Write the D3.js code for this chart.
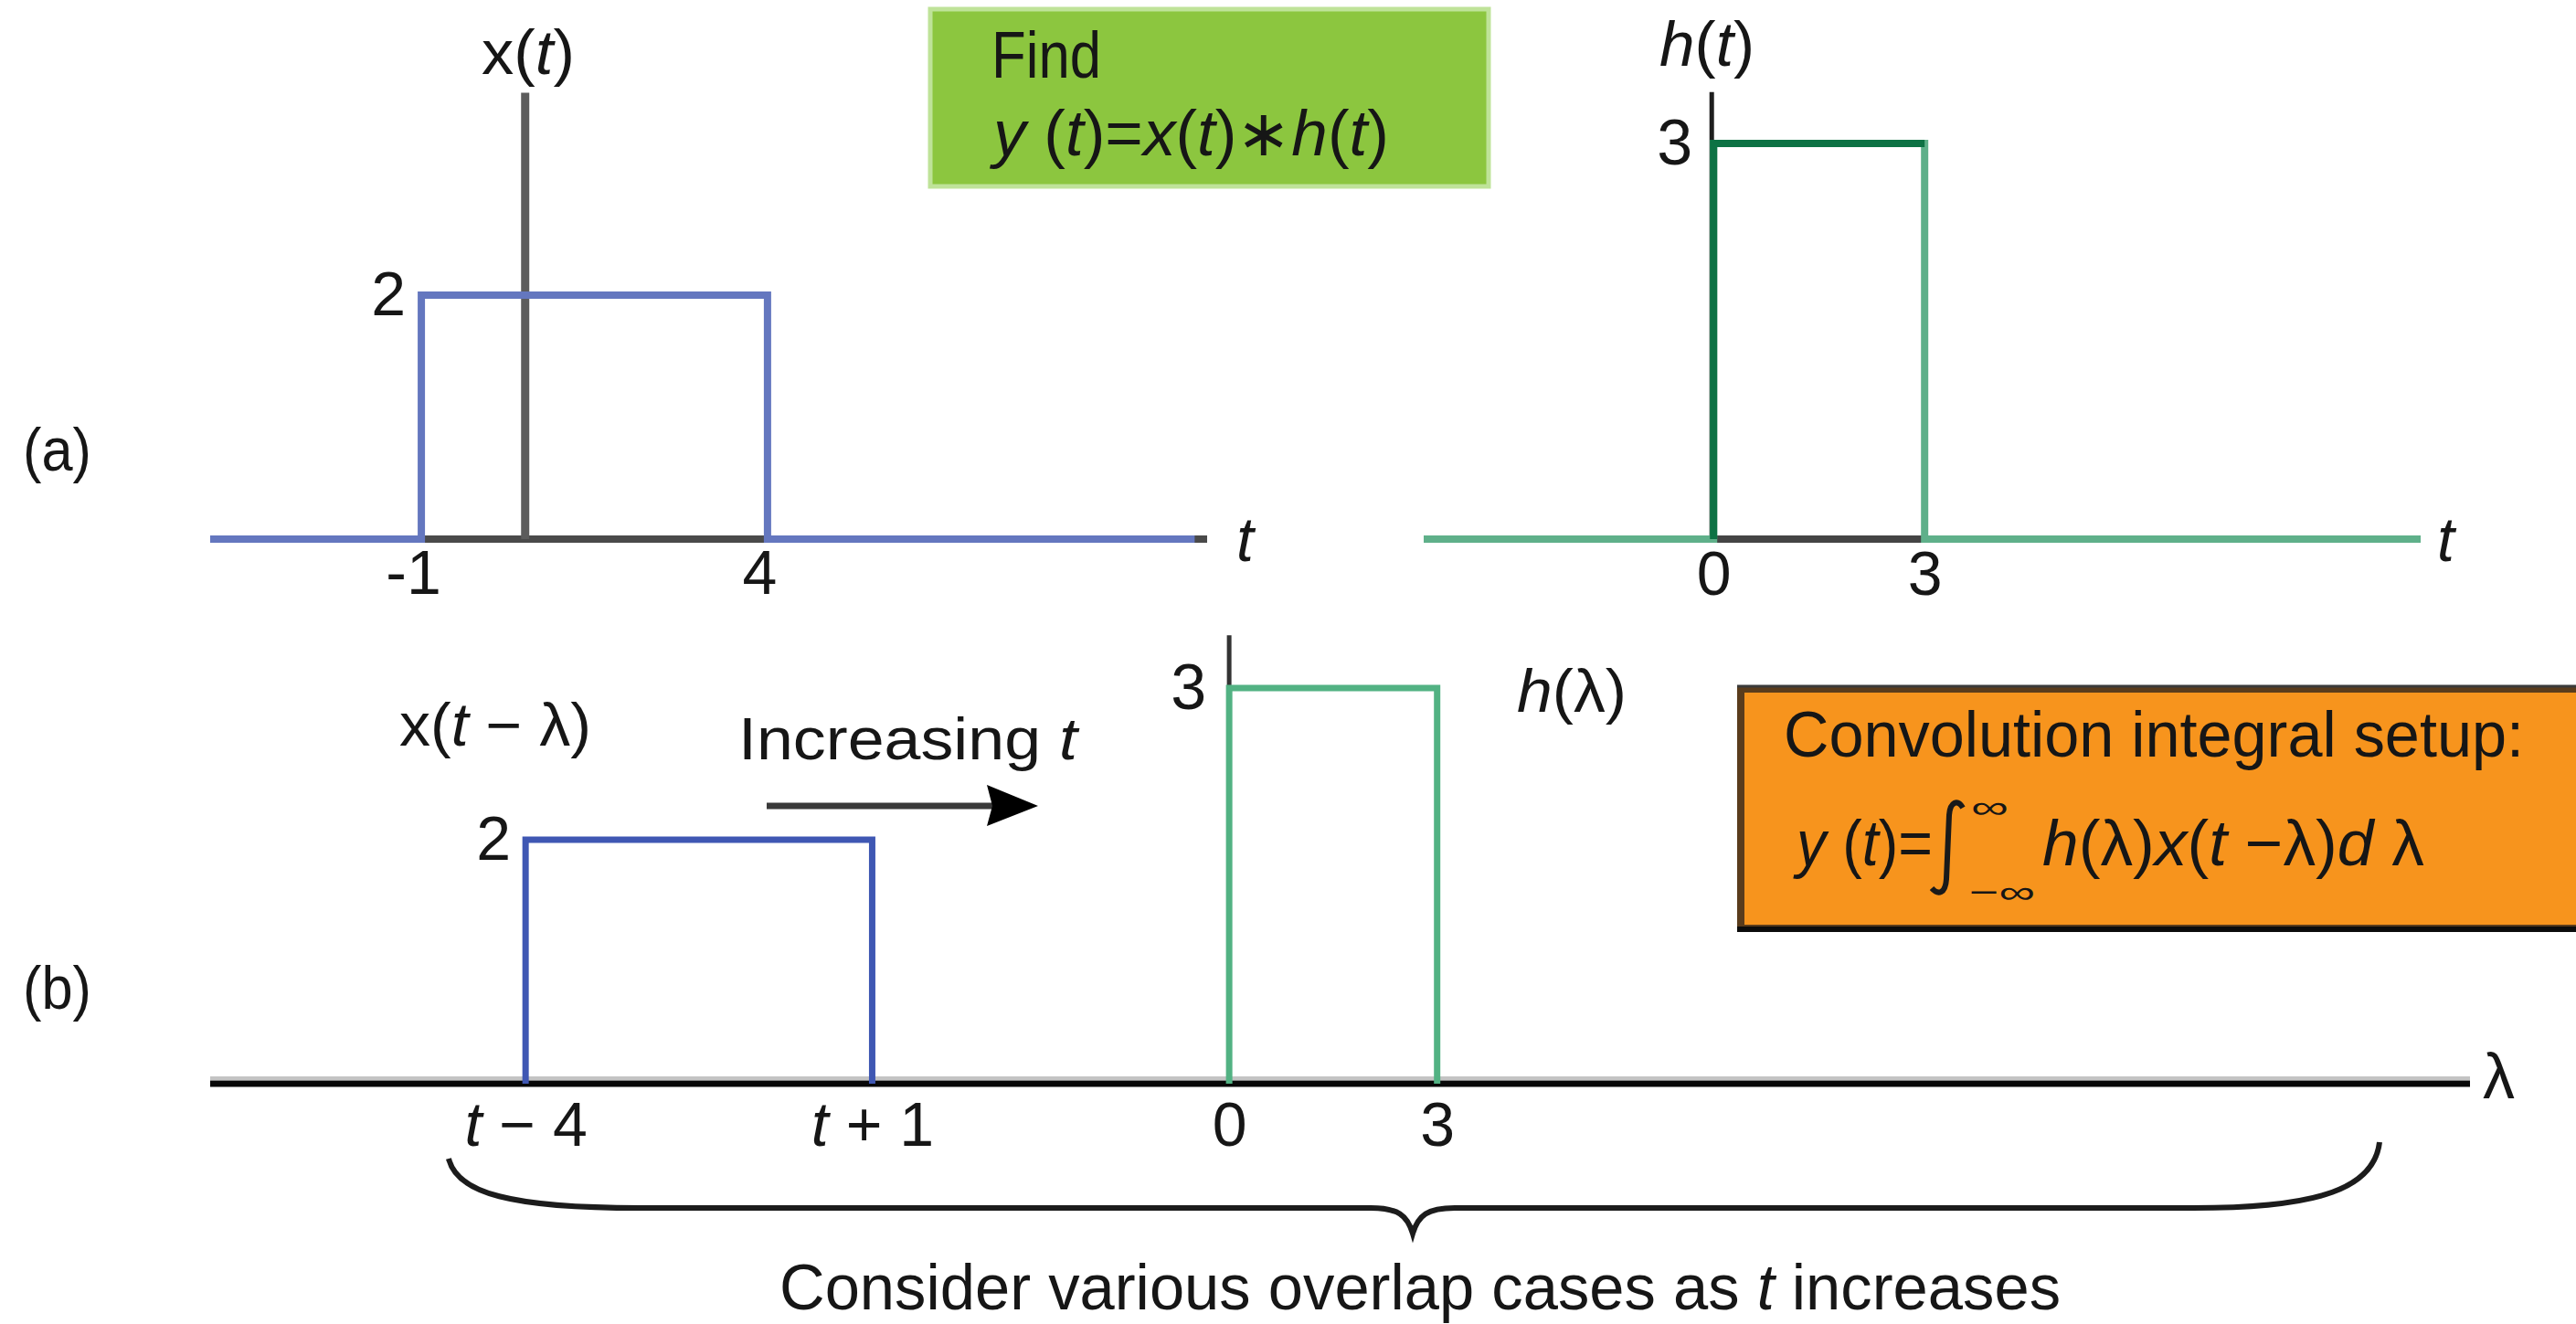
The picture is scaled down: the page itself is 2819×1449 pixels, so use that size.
<!DOCTYPE html>
<html>
<head>
<meta charset="utf-8">
<title>Convolution integral setup</title>
<script src="https://d3js.org/d3.v7.min.js"></script>
<style>
  body { margin: 0; background: #fff; }
  svg text {
    font-family: "Liberation Sans Narrow", "Liberation Sans", Arial, sans-serif;
    fill: #161616;
    white-space: pre;
  }
  .it { font-style: italic; }
</style>
</head>
<body>
<script>
// values
var xEdges = [-1, 4];        // x(t) is nonzero between these t
var xAmp = 2;
var hEdges = [0, 3];         // h(t) is nonzero between these t
var hAmp = 3;
var tShown = -6.15;          // the t used to draw x(t - lambda) in (b)
var xTickLabels = ["-1", "4"];
var hTickLabels = ["0", "3"];
var lamTickLabels = ["_t_ \u2212 4", "_t_ + 1", "0", "3"];

var W = 2819, H = 1449;

var svg = d3.select("body").append("svg")
  .attr("width", W)
  .attr("height", H);

// scales, one set per drawing
var xA  = d3.scaleLinear().domain([-4.05, 10.35]).range([230, 1321]);
var yXa = d3.scaleLinear().domain([0, 2]).range([590, 323]);
var xH  = d3.scaleLinear().domain([-4.12, 10.05]).range([1558, 2649]);
var yHa = d3.scaleLinear().domain([0, 3]).range([590, 157]);
var xL  = d3.scaleLinear().domain([-14.7, 17.9]).range([230, 2703]);
var yXb = d3.scaleLinear().domain([0, 2]).range([1186, 919]);
var yHb = d3.scaleLinear().domain([0, 3]).range([1186, 753]);

function lineOn(xs, ys) {
  return d3.line().x(function(d){ return xs(d[0]); }).y(function(d){ return ys(d[1]); });
}

// rectangular pulse, optionally running along the axis on both sides
function pulse(edges, amp, lo, hi) {
  var pts = [[edges[0], 0], [edges[0], amp], [edges[1], amp], [edges[1], 0]];
  if (lo !== undefined) pts.unshift([lo, 0]);
  if (hi !== undefined) pts.push([hi, 0]);
  return pts;
}

function rich(t, str) {
  t.text(null);
  str.split("_").forEach(function(part, i) {
    if (part) t.append("tspan").attr("class", i % 2 ? "it" : null).text(part);
  });
  return t;
}

function measure(s, it, size) {
  var tmp = svg.append("text").attr("font-size", size).attr("class", it ? "it" : null).text(s);
  var w = tmp.node().getComputedTextLength();
  tmp.remove();
  return w;
}

// text with _italic_ parts; when a width is given every part becomes its own
// <text>, squeezed by the same factor so the whole run fills that width
function addText(x, y, str, size, len) {
  if (!len) {
    return rich(svg.append("text").attr("x", x).attr("y", y).attr("font-size", size), str);
  }
  var parts = [];
  str.split("_").forEach(function(p, i) { if (p) parts.push({ s: p, it: i % 2 === 1 }); });
  parts.forEach(function(p) {
    p.w = measure(p.s, p.it, size);
    p.core = p.s.trim();
    var lead = p.s.length - p.s.replace(/^\s+/, "").length;
    p.lead = lead ? measure(p.s.slice(0, lead), p.it, size) : 0;
    p.cw = p.core ? measure(p.core, p.it, size) : 0;
  });
  var k = len / d3.sum(parts, function(p) { return p.w; });
  var cx = x;
  parts.forEach(function(p) {
    if (p.core) {
      svg.append("text")
        .attr("x", cx + p.lead * k).attr("y", y)
        .attr("font-size", size)
        .attr("class", p.it ? "it" : null)
        .attr("textLength", p.cw * k)
        .attr("lengthAdjust", "spacingAndGlyphs")
        .text(p.core);
    }
    cx += p.w * k;
  });
}

function tickAxis(g, axis, labels, size) {
  g.call(axis.tickSize(0).tickFormat(""));
  g.attr("font-size", size).attr("font-family", null);
  g.select(".domain").remove();
  g.selectAll(".tick text").each(function(d, i) { rich(d3.select(this), labels[i]); });
}

// ---------- (a) left: x(t) ----------
var gA = svg.append("g");
var dA = xA.domain();

gA.append("line")
  .attr("x1", xA(dA[0])).attr("x2", xA(dA[1]))
  .attr("y1", yXa(0)).attr("y2", yXa(0))
  .attr("stroke", "#4a4a4a").attr("stroke-width", 8);

gA.append("line")
  .attr("x1", xA(0.5)).attr("x2", xA(0.5))
  .attr("y1", yXa(0)).attr("y2", yXa(3.66))
  .attr("stroke", "#5c5c5c").attr("stroke-width", 9);

gA.append("path")
  .attr("d", lineOn(xA, yXa)(pulse(xEdges, xAmp, dA[0], 10.17)))
  .attr("fill", "none").attr("stroke", "#6477bf").attr("stroke-width", 8);

tickAxis(gA.append("g").attr("transform", "translate(-9," + yXa(0) + ")"),
  d3.axisBottom(xA).tickValues(xEdges).tickPadding(12), xTickLabels, 68);
tickAxis(gA.append("g").attr("transform", "translate(" + xA(xEdges[0]) + ",0)"),
  d3.axisLeft(yXa).tickValues([xAmp]).tickPadding(17), [String(xAmp)], 68);

// ---------- (a) right: h(t) ----------
var gH = svg.append("g");
var dH = xH.domain();

gH.append("line")
  .attr("x1", xH(dH[0])).attr("x2", xH(dH[1]))
  .attr("y1", yHa(0)).attr("y2", yHa(0))
  .attr("stroke", "#444").attr("stroke-width", 8);

gH.append("line")
  .attr("x1", xH(0) - 2).attr("x2", xH(0) - 2)
  .attr("y1", yHa(0)).attr("y2", yHa(3.39))
  .attr("stroke", "#1e1e1e").attr("stroke-width", 5);

gH.append("path")
  .attr("d", lineOn(xH, yHa)(pulse(hEdges, hAmp, dH[0], dH[1])))
  .attr("fill", "none").attr("stroke", "#5fb08a").attr("stroke-width", 8);

gH.append("path")
  .attr("d", lineOn(xH, yHa)([[hEdges[0], 0], [hEdges[0], hAmp], [hEdges[1], hAmp]]))
  .attr("fill", "none").attr("stroke", "#0d7244").attr("stroke-width", 8);

tickAxis(gH.append("g").attr("transform", "translate(0," + yHa(0) + ")"),
  d3.axisBottom(xH).tickValues(hEdges).tickPadding(13), hTickLabels, 68);
tickAxis(gH.append("g").attr("transform", "translate(" + xH(hEdges[0]) + ",0)"),
  d3.axisLeft(yHa).tickValues([hAmp]).tickPadding(23), [String(hAmp)], 70);

// ---------- (b): x(t - lambda) and h(lambda) ----------
var gB = svg.append("g");
var dL = xL.domain();
var lamEdges = [tShown - xEdges[1], tShown - xEdges[0]];

gB.append("line")
  .attr("x1", xL(dL[0])).attr("x2", xL(dL[1]))
  .attr("y1", yXb(0) - 6).attr("y2", yXb(0) - 6)
  .attr("stroke", "#c4c4c4").attr("stroke-width", 4);
gB.append("line")
  .attr("x1", xL(dL[0])).attr("x2", xL(dL[1]))
  .attr("y1", yXb(0)).attr("y2", yXb(0))
  .attr("stroke", "#080808").attr("stroke-width", 7);

gB.append("line")
  .attr("x1", xL(0)).attr("x2", xL(0))
  .attr("y1", yHb(0)).attr("y2", yHb(3.4))
  .attr("stroke", "#333").attr("stroke-width", 5);

gB.append("path")
  .attr("d", lineOn(xL, yXb)(pulse(lamEdges, xAmp)))
  .attr("fill", "none").attr("stroke", "#3f57b3").attr("stroke-width", 7);

gB.append("path")
  .attr("d", lineOn(xL, yHb)(pulse(hEdges, hAmp)))
  .attr("fill", "none").attr("stroke", "#52b283").attr("stroke-width", 7);

tickAxis(gB.append("g").attr("transform", "translate(0," + yXb(0) + ")"),
  d3.axisBottom(xL).tickValues(lamEdges.concat(hEdges)).tickPadding(20), lamTickLabels, 68);
tickAxis(gB.append("g").attr("transform", "translate(" + xL(lamEdges[0]) + ",0)"),
  d3.axisLeft(yXb).tickValues([xAmp]).tickPadding(16), [String(xAmp)], 68);
tickAxis(gB.append("g").attr("transform", "translate(" + xL(hEdges[0]) + ",0)"),
  d3.axisLeft(yHb).tickValues([hAmp]).tickPadding(25), [String(hAmp)], 70);

// arrow "Increasing t"
svg.append("line")
  .attr("x1", 839).attr("x2", 1090).attr("y1", 882).attr("y2", 882)
  .attr("stroke", "#3a3a3a").attr("stroke-width", 7);
svg.append("path")
  .attr("d", "M1136,882 L1080,859 L1086,882 L1080,904 Z")
  .attr("fill", "#000");

// brace
svg.append("path")
  .attr("d", "M491,1268 C500,1306 560,1322 700,1322 L1500,1322 C1530,1322 1540,1330 1546,1350 " +
             "C1552,1330 1562,1322 1592,1322 L2400,1322 C2540,1322 2598,1300 2604,1250")
  .attr("fill", "none").attr("stroke", "#1c1c1c").attr("stroke-width", 6);

// ---------- boxes ----------
svg.append("rect")
  .attr("x", 1018).attr("y", 10).attr("width", 611).attr("height", 194)
  .attr("fill", "#8cc63f").attr("stroke", "#bfe399").attr("stroke-width", 5);

svg.append("rect")
  .attr("x", 1905).attr("y", 754).attr("width", 940).attr("height", 262)
  .attr("fill", "#f7941d").attr("stroke", "#5a3c1c").attr("stroke-width", 8);
svg.append("line")
  .attr("x1", 1901).attr("x2", W).attr("y1", 751).attr("y2", 751)
  .attr("stroke", "#3a3a3a").attr("stroke-width", 3);
svg.append("line")
  .attr("x1", 1901).attr("x2", W).attr("y1", 1017).attr("y2", 1017)
  .attr("stroke", "#0c0c0c").attr("stroke-width", 6);

// ---------- text ----------
addText(25, 515, "(a)", 66, 75);
addText(25, 1104, "(b)", 66, 75);

addText(527, 81, "x(_t_)", 68, 102);
addText(1353, 614, "_t_", 68);
addText(1816, 72, "_h_(_t_)", 68, 104);
addText(2667, 614, "_t_", 68);

addText(1085, 85, "Find", 72, 120);
addText(1087, 170, "_y_ (_t_)=_x_(_t_)\u2217_h_(_t_)", 70, 433);

addText(437, 816, "x(_t_ \u2212 \u03bb)", 66, 210);
addText(808, 831, "Increasing _t_", 64, 371);
addText(1660, 779, "_h_(\u03bb)", 66, 120);
addText(2717, 1202, "\u03bb", 70);

addText(1952, 828, "Convolution integral setup:", 71, 810);
addText(1966, 947, "_y_ (_t_)=", 70, 149);
svg.append("path")
  .attr("d", "M2148,884 C2142,874 2134,878 2133,892 L2130,962 C2129,978 2121,980 2114,972")
  .attr("fill", "none").attr("stroke", "#1a1a1a").attr("stroke-width", 6);
addText(2157, 895, "\u221e", 34, 41);
addText(2155, 988, "\u2212\u221e", 34, 72);
addText(2235, 947, "_h_(\u03bb)_x_(_t_ \u2212\u03bb)_d_ \u03bb", 70, 418);

addText(853, 1433, "Consider various overlap cases as _t_ increases", 70, 1402);
</script>
</body>
</html>
